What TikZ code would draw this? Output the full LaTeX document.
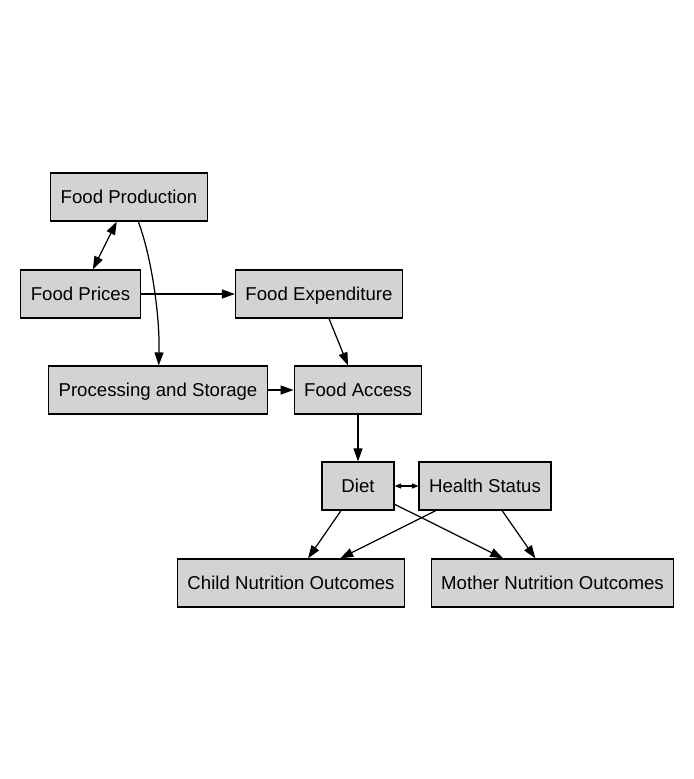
\documentclass[tikz,border=0pt]{standalone}
\usepackage{fontspec}
\setmainfont{Liberation Sans}
\usepackage{xcolor}
\usepackage{tikz}
\usetikzlibrary{arrows.meta}
\definecolor{boxgray}{RGB}{211,211,211}

\begin{document}
\begin{tikzpicture}[
    x=0.02cm, y=-0.02cm,
    >={Triangle[length=2.6mm, width=1.8mm]},
    keybox/.style={draw, line width=0.7pt, fill=boxgray, inner xsep=0.2cm, minimum width=1.44cm, minimum height=0.96cm, text height=1.6ex, text depth=0.3ex, font=\fontsize{10.6}{12}\selectfont},
    link/.style={->, line width=0.7pt},
]
    \useasboundingbox (0,0) rectangle (694,779);

    % Top rows
    \node[keybox] (prod) at (129,197) {Food Production};
    \node[keybox] (prices) at (80.5,294) {Food Prices};
    \node[keybox] (expend) at (319,294) {Food Expenditure};
    \node[keybox] (proc) at (158,390) {Processing and Storage};
    \node[keybox] (access) at (358,390) {Food Access};

    % Middle
    \node[keybox] (diet) at (358,486) {Diet};
    \node[keybox] (health) at (485,486) {Health Status};

    % Outcomes
    \node[keybox] (child) at (291,583) {Child Nutrition Outcomes};
    \node[keybox] (mother) at (552.5,583) {Mother Nutrition Outcomes};

    \draw[link, <->] (prod) -- (prices);
    \draw[link] (prod) .. controls (152,258) and (160,318) .. (proc);
    \draw[link] (prices) -- (expend);
    \draw[link] (expend) -- (access);
    \draw[link] (proc) -- (access);
    \draw[link] (access) -- (diet);
    \draw[line width=0.7pt, {Triangle[length=1.3mm, width=1mm]}-{Triangle[length=1.3mm, width=1mm]}] (diet) -- (health);
    \draw[link] (diet) -- (child);
    \draw[link] (diet) -- (mother);
    \draw[link] (health) -- (child);
    \draw[link] (health) -- (mother);
\end{tikzpicture}
\end{document}
